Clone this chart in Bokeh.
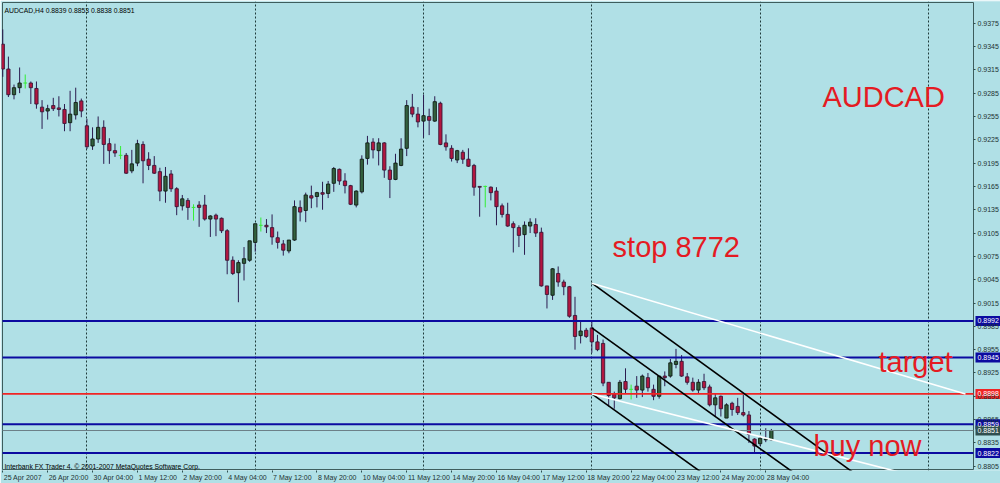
from bokeh.plotting import figure
from bokeh.models import (Range1d, FixedTicker, NumeralTickFormatter, Label,
                          ColumnDataSource)
from bokeh.embed import file_html
from bokeh.resources import INLINE

# ---------------- data (H4 candles, price in pips of 0.0001) ----------------
open_pips = [9348, 9316, 9283, 9292, 9298, 9298, 9291, 9267, 9262, 9269,
             9266, 9264, 9247, 9257, 9275, 9243, 9217, 9226, 9241, 9220,
             9211, 9205, 9205, 9185, 9195, 9219, 9200, 9192, 9184, 9159,
             9181, 9162, 9140, 9147, 9138, 9141, 9141, 9123, 9128, 9124,
             9108, 9070, 9054, 9066, 9070, 9093, 9115, 9115, 9112, 9099,
             9091, 9082, 9096, 9138, 9134, 9153, 9152, 9157, 9156, 9169,
             9187, 9172, 9166, 9141, 9158, 9201, 9222, 9211, 9221, 9186,
             9174, 9192, 9214, 9267, 9258, 9249, 9255, 9249, 9272, 9221,
             9214, 9199, 9209, 9200, 9192, 9165, 9165, 9164, 9159, 9140,
             9129, 9117, 9112, 9103, 9114, 9116, 9106, 9037, 9025, 9053,
             9042, 9036, 8999, 8973, 8980, 8983, 8965, 8963, 8913, 8898,
             8892, 8914, 8904, 8908, 8903, 8919, 8904, 8895, 8921, 8921,
             8936, 8940, 8920, 8913, 8903, 8914, 8907, 8884, 8895, 8867,
             8886, 8882, 8874, 8871, 8840, 8834, 8839, 8839]
high_pips = [9367, 9332, 9296, 9318, 9309, 9300, 9300, 9276, 9270, 9279,
             9281, 9271, 9288, 9292, 9278, 9252, 9241, 9255, 9250, 9227,
             9220, 9217, 9208, 9212, 9225, 9223, 9209, 9204, 9189, 9190,
             9186, 9164, 9154, 9150, 9142, 9146, 9154, 9128, 9130, 9125,
             9110, 9075, 9070, 9087, 9095, 9117, 9125, 9123, 9129, 9107,
             9096, 9096, 9147, 9147, 9157, 9166, 9158, 9171, 9172, 9190,
             9188, 9182, 9167, 9160, 9205, 9230, 9227, 9227, 9222, 9191,
             9207, 9227, 9276, 9284, 9267, 9283, 9265, 9281, 9274, 9232,
             9218, 9212, 9212, 9214, 9194, 9165, 9166, 9165, 9164, 9143,
             9144, 9120, 9115, 9120, 9124, 9124, 9112, 9037, 9060, 9062,
             9045, 9037, 9023, 8992, 8983, 8992, 8974, 8968, 8913, 8901,
             8916, 8931, 8910, 8921, 8923, 8925, 8910, 8921, 8927, 8943,
             8956, 8948, 8925, 8919, 8917, 8924, 8910, 8898, 8896, 8886,
             8888, 8893, 8897, 8876, 8841, 8844, 8854, 8853]
low_pips = [9306, 9280, 9277, 9285, 9291, 9271, 9265, 9239, 9251, 9262,
            9255, 9236, 9236, 9251, 9254, 9213, 9212, 9221, 9194, 9194,
            9203, 9200, 9181, 9182, 9191, 9169, 9186, 9181, 9146, 9144,
            9158, 9128, 9134, 9122, 9121, 9113, 9121, 9100, 9101, 9105,
            9052, 9051, 9016, 9044, 9068, 9081, 9107, 9105, 9090, 9085,
            9076, 9079, 9095, 9120, 9119, 9137, 9138, 9135, 9150, 9158,
            9167, 9156, 9141, 9138, 9156, 9193, 9201, 9192, 9176, 9150,
            9173, 9191, 9204, 9254, 9241, 9228, 9231, 9248, 9218, 9211,
            9197, 9195, 9194, 9190, 9153, 9126, 9138, 9147, 9115, 9125,
            9113, 9080, 9087, 9077, 9105, 9100, 9036, 9008, 9019, 9036,
            9025, 8996, 8955, 8963, 8970, 8951, 8953, 8908, 8882, 8879,
            8891, 8899, 8891, 8893, 8894, 8901, 8890, 8892, 8908, 8919,
            8931, 8920, 8910, 8901, 8899, 8903, 8882, 8869, 8869, 8867,
            8870, 8871, 8869, 8835, 8823, 8831, 8836, 8838]
close_pips = [9316, 9283, 9292, 9298, 9298, 9292, 9271, 9261, 9265, 9265,
              9264, 9246, 9258, 9273, 9262, 9216, 9226, 9241, 9219, 9211,
              9208, 9205, 9182, 9194, 9220, 9198, 9192, 9182, 9159, 9178,
              9162, 9139, 9149, 9138, 9138, 9138, 9123, 9127, 9123, 9108,
              9070, 9053, 9067, 9072, 9095, 9117, 9115, 9113, 9100, 9093,
              9083, 9096, 9139, 9132, 9154, 9150, 9157, 9155, 9168, 9188,
              9172, 9166, 9142, 9159, 9200, 9221, 9212, 9221, 9186, 9174,
              9195, 9213, 9269, 9258, 9248, 9256, 9250, 9274, 9219, 9216,
              9201, 9211, 9200, 9191, 9164, 9164, 9165, 9157, 9139, 9129,
              9114, 9112, 9102, 9115, 9119, 9105, 9037, 9026, 9059, 9042,
              9036, 8998, 8972, 8979, 8972, 8965, 8955, 8912, 8896, 8893,
              8913, 8904, 8904, 8903, 8921, 8906, 8895, 8921, 8919, 8938,
              8940, 8921, 8913, 8903, 8913, 8906, 8884, 8893, 8879, 8884,
              8878, 8874, 8871, 8846, 8831, 8841, 8840, 8851]

date_labels = ["25 Apr 2007", "26 Apr 20:00", "30 Apr 04:00", "1 May 12:00",
               "2 May 20:00", "4 May 04:00", "7 May 12:00", "8 May 20:00",
               "10 May 04:00", "11 May 12:00", "14 May 20:00", "16 May 04:00",
               "17 May 12:00", "18 May 20:00", "22 May 04:00", "23 May 12:00",
               "24 May 20:00", "28 May 04:00"]
bars_per_label = 8
week_separators = [15, 45, 75, 105, 135, 165]

price_ticks = [0.9375, 0.9345, 0.9315, 0.9285, 0.9255, 0.9225, 0.9195, 0.9165,
               0.9135, 0.9105, 0.9075, 0.9045, 0.9015, 0.8985, 0.8955, 0.8925,
               0.8895, 0.8865, 0.8835, 0.8805]

level_prices = [0.8992, 0.8945, 0.8898, 0.8859, 0.8822]
level_kinds = ["blue", "blue", "red", "blue", "blue"]
bid_price = 0.8851

black_x0 = [105, 105, 105]
black_p0 = [0.90405, 0.8983, 0.8898]
black_x1 = [160, 150, 130]
black_p1 = [0.8753, 0.8750, 0.8769]
white_x0 = [105, 105]
white_p0 = [0.90405, 0.8898]
white_x1 = [171.6, 165]
white_p1 = [0.8898, 0.8788]

header_text = "AUDCAD,H4  0.8839 0.8853 0.8838 0.8851"
footer_text = "Interbank FX Trader 4, \u00a9 2001-2007 MetaQuotes Software Corp."

# ---------------- styling ----------------
BG = "#B0E0E6"
BEAR_FILL = "#B3163F"
BEAR_LINE = "#3A1838"
BULL_FILL = "#33603E"
BULL_LINE = "#101C14"
WICK = "#2B1B4F"
DOJI = "#33EE33"
BLUE = "#0B0BA0"
RED = "#F02424"
TXT_RED = "#E41B23"
BORDER = "#3D5C5C"
FONT = "Liberation Sans"

W, H = 1000, 483
PX_BAR = 971 / 173.08         # pixels per bar
PX_PRICE = 7790.0             # pixels per price unit
XL, XR = -0.05, 173.03        # chart window (left/right edge, in bars)
PT, PB = 0.94016, 0.88008     # chart window (top/bottom edge, price)

p = figure(width=W, height=H, output_backend="svg", toolbar_location=None,
           x_range=Range1d(XL - 1 / PX_BAR, XL + 998 / PX_BAR),
           y_range=Range1d(PT - 469 / PX_PRICE, PT + 1 / PX_PRICE),
           y_axis_location="right", tools="")
p.min_border_left = 1
p.min_border_top = 1
p.min_border_right = 0
p.min_border_bottom = 12
p.background_fill_color = BG
p.border_fill_color = BG
p.outline_line_color = None

# ---------------- chart window border ----------------
p.segment(x0=[XL, XL, XL, XR], y0=[PT, PB, PB, PB],
          x1=[XR, XR, XL, XR], y1=[PT, PB, PT, PT],
          line_color=BORDER, line_width=1)

# ---------------- candles ----------------
n = len(open_pips)
o = [v / 10000 for v in open_pips]
h = [v / 10000 for v in high_pips]
l = [v / 10000 for v in low_pips]
c = [v / 10000 for v in close_pips]
idx = list(range(n))

def subset(cond):
    ii = [i for i in idx if cond(i)]
    return ColumnDataSource(dict(
        x=ii,
        o=[o[i] for i in ii], h=[h[i] for i in ii], l=[l[i] for i in ii],
        c=[c[i] for i in ii],
        top=[max(o[i], c[i]) for i in ii], bot=[min(o[i], c[i]) for i in ii],
        xl=[i - 0.33 for i in ii], xr=[i + 0.33 for i in ii]))

bull = subset(lambda i: close_pips[i] > open_pips[i])
bear = subset(lambda i: close_pips[i] < open_pips[i])
doji = subset(lambda i: close_pips[i] == open_pips[i])

for src in (bull, bear):
    p.segment(x0="x", y0="l", x1="x", y1="h", source=src, line_color=WICK,
              line_width=1)
p.vbar(x="x", width=0.58, top="top", bottom="bot", source=bear,
       fill_color=BEAR_FILL, line_color=BEAR_LINE, line_width=0.9)
p.vbar(x="x", width=0.58, top="top", bottom="bot", source=bull,
       fill_color=BULL_FILL, line_color=BULL_LINE, line_width=0.9)
p.segment(x0="x", y0="l", x1="x", y1="h", source=doji, line_color=DOJI,
          line_width=1)
p.segment(x0="xl", y0="o", x1="xr", y1="o", source=doji, line_color=DOJI,
          line_width=1)

# ---------------- horizontal levels ----------------
lvl_colors = [BLUE if k == "blue" else RED for k in level_kinds]
lvl_widths = [2 if k == "blue" else 1.8 for k in level_kinds]
nl = len(level_prices)
p.segment(x0=[XL] * nl, x1=[XR] * nl, y0=level_prices, y1=level_prices,
          line_color=lvl_colors, line_width=lvl_widths)
p.segment(x0=[XL], x1=[XR], y0=[bid_price], y1=[bid_price],
          line_color="#6C8088", line_width=1)

# ---------------- trend lines ----------------
p.segment(x0=black_x0, y0=black_p0, x1=black_x1, y1=black_p1,
          line_color="black", line_width=1.6)
p.segment(x0=white_x0, y0=white_p0, x1=white_x1, y1=white_p1,
          line_color="white", line_width=1.6)

# ---------------- axes & grid ----------------
yax = p.yaxis[0]
yax.fixed_location = XR
yax.ticker = FixedTicker(ticks=price_ticks)
yax.formatter = NumeralTickFormatter(format="0.0000")
yax.axis_line_color = None
yax.major_tick_in = 0
yax.major_tick_out = 2
yax.major_tick_line_color = "#2F4F4F"
yax.minor_tick_line_color = None
yax.major_label_standoff = 2
yax.major_label_text_font = FONT
yax.major_label_text_font_size = "7px"
yax.major_label_text_color = "#1E3232"

FS = 7
char_w = {" ": 0.278, ":": 0.278, "A": 0.667, "p": 0.556, "r": 0.333,
          "M": 0.833, "a": 0.556, "y": 0.5}
label_bars = [i * bars_per_label for i in range(len(date_labels))]
centers = []
for b, t in zip(label_bars, date_labels):
    wpx = sum(char_w.get(ch, 0.556) for ch in t) * FS
    centers.append(round(b + (wpx / 2 + 1) / PX_BAR, 3))

xax = p.xaxis[0]
xax.ticker = FixedTicker(ticks=centers, minor_ticks=label_bars)
xax.major_label_overrides = {cc: t for cc, t in zip(centers, date_labels)}
xax.axis_line_color = None
xax.major_tick_line_color = None
xax.major_tick_in = 0
xax.major_tick_out = 0
xax.minor_tick_in = 0
xax.minor_tick_out = 2
xax.minor_tick_line_color = "#2F4F4F"
xax.major_label_standoff = 1
xax.major_label_text_font = FONT
xax.major_label_text_font_size = f"{FS}px"
xax.major_label_text_color = "#1E3232"

p.ygrid.grid_line_color = None
p.xgrid.ticker = FixedTicker(ticks=week_separators)
p.xgrid.grid_line_color = "#1F3A3A"
p.xgrid.grid_line_dash = "2 2"
p.xgrid.grid_line_width = 1
p.xgrid.bounds = (XL, XR)

# ---------------- price tags on the right scale ----------------
tag_prices = level_prices + [bid_price]
tag_colors = lvl_colors + ["#2F4F4F"]
nt = len(tag_prices)
p.quad(left=[XR + 2 / PX_BAR] * nt, right=[XR + 26.5 / PX_BAR] * nt,
       bottom=[tp - 5 / PX_PRICE for tp in tag_prices],
       top=[tp + 5 / PX_PRICE for tp in tag_prices],
       fill_color=tag_colors, line_color=None)
for tp in tag_prices:
    p.add_layout(Label(x=XR, y=tp, x_offset=4, text=f"{tp:.4f}",
                       text_font=FONT, text_font_size="7px",
                       text_color="white", text_baseline="middle",
                       text_align="left"))

# ---------------- texts ----------------
p.add_layout(Label(x=0.3, y=0.93913, text=header_text, text_font=FONT,
                   text_font_size="6.8px", text_color="black",
                   text_baseline="alphabetic"))
p.add_layout(Label(x=0.3, y=0.88047, text=footer_text, text_font=FONT,
                   text_font_size="6.8px", text_color="black",
                   text_baseline="alphabetic"))
for txt, bx, py in [("AUDCAD", 146.1, 0.92796), ("stop 8772", 108.7, 0.9087),
                    ("target", 156.1, 0.89385), ("buy now", 144.5, 0.88307)]:
    p.add_layout(Label(x=bx, y=py, text=txt, text_font=FONT,
                       text_font_size="29px", text_color=TXT_RED,
                       text_baseline="alphabetic", text_align="left"))

open("out.html", "w").write(file_html(p, INLINE))
